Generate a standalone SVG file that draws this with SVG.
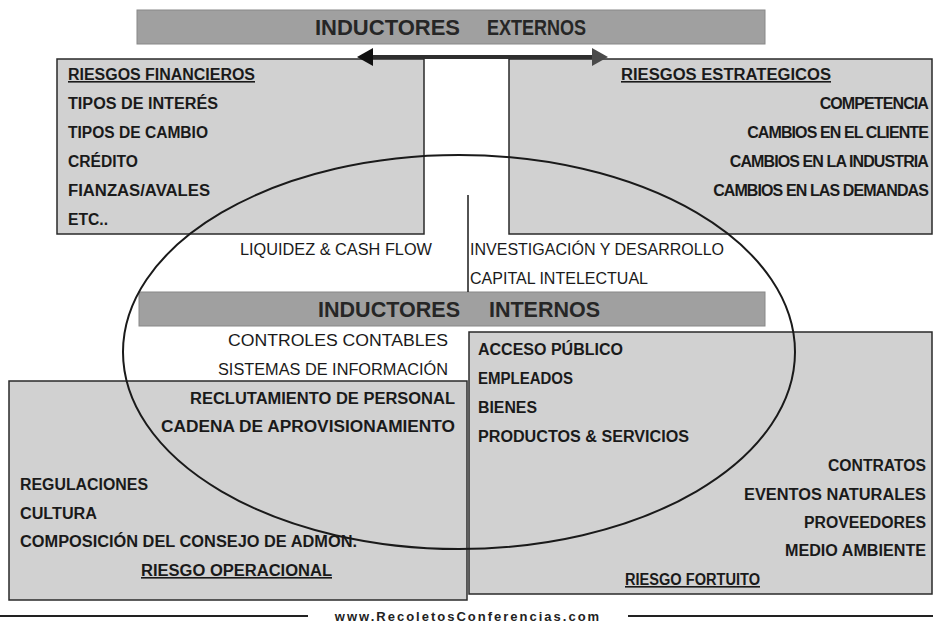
<svg xmlns="http://www.w3.org/2000/svg" width="933" height="627" viewBox="0 0 933 627">
<style>
.box{fill:#d1d1d1;stroke:#2a2a2a;stroke-width:1.5}
.banner{fill:#a0a0a0;stroke:#888;stroke-width:1}
.bt{font-family:"Liberation Sans",Arial,sans-serif;font-weight:bold;font-size:22px;fill:#262626}
.t{font-family:"Liberation Sans",Arial,sans-serif;font-weight:bold;font-size:16px;fill:#1a1a1a}
.s{font-family:"Liberation Sans",Arial,sans-serif;font-weight:bold;font-size:16px;letter-spacing:-0.9px;fill:#1a1a1a}
.r{font-family:"Liberation Sans",Arial,sans-serif;font-size:16px;fill:#1a1a1a}
.e{text-anchor:end}
.u{text-decoration:underline}
.ln{stroke:#1a1a1a;fill:none}
</style>
<rect width="933" height="627" fill="#ffffff"/>

<g id="banner-externos">
<rect class="banner" x="137" y="10" width="628" height="34"/>
<text class="bt" x="315" y="35" textLength="145" lengthAdjust="spacingAndGlyphs">INDUCTORES</text>
<text class="bt" x="487" y="35" textLength="99" lengthAdjust="spacingAndGlyphs">EXTERNOS</text>
</g>

<g id="riesgos-financieros">
<rect class="box" x="57" y="59" width="367" height="175"/>
<text class="t u" x="68" y="80" textLength="187" lengthAdjust="spacingAndGlyphs">RIESGOS FINANCIEROS</text>
<text class="t" x="68" y="109" textLength="150" lengthAdjust="spacingAndGlyphs">TIPOS DE INTERÉS</text>
<text class="t" x="68" y="138" textLength="140" lengthAdjust="spacingAndGlyphs">TIPOS DE CAMBIO</text>
<text class="t" x="68" y="167" textLength="70" lengthAdjust="spacingAndGlyphs">CRÉDITO</text>
<text class="t" x="68" y="196" textLength="142" lengthAdjust="spacingAndGlyphs">FIANZAS/AVALES</text>
<text class="t" x="68" y="225" textLength="40" lengthAdjust="spacingAndGlyphs">ETC..</text>
</g>

<g id="riesgos-estrategicos">
<rect class="box" x="509" y="59" width="423" height="175"/>
<text class="t u" x="621" y="80" textLength="210" lengthAdjust="spacingAndGlyphs">RIESGOS ESTRATEGICOS</text>
<text class="s e" x="928" y="109">COMPETENCIA</text>
<text class="s e" x="928" y="138">CAMBIOS EN EL CLIENTE</text>
<text class="s e" x="928" y="167">CAMBIOS EN LA INDUSTRIA</text>
<text class="s e" x="928" y="196">CAMBIOS EN LAS DEMANDAS</text>
</g>

<g id="riesgo-operacional">
<rect class="box" x="9" y="381" width="458" height="219"/>
<text class="t e" x="455" y="404" textLength="265" lengthAdjust="spacingAndGlyphs">RECLUTAMIENTO DE PERSONAL</text>
<text class="t e" x="455" y="432" textLength="294" lengthAdjust="spacingAndGlyphs">CADENA DE APROVISIONAMIENTO</text>
<text class="t" x="20" y="490" textLength="128" lengthAdjust="spacingAndGlyphs">REGULACIONES</text>
<text class="t" x="20" y="519" textLength="77" lengthAdjust="spacingAndGlyphs">CULTURA</text>
<text class="t" x="20" y="547" textLength="337" lengthAdjust="spacingAndGlyphs">COMPOSICIÓN DEL CONSEJO DE ADMON.</text>
<text class="t u" x="141" y="576" textLength="191" lengthAdjust="spacingAndGlyphs">RIESGO OPERACIONAL</text>
</g>

<g id="riesgo-fortuito">
<rect class="box" x="469" y="332" width="463" height="262"/>
<text class="t" x="478" y="355" textLength="145" lengthAdjust="spacingAndGlyphs">ACCESO PÚBLICO</text>
<text class="t" x="478" y="384" textLength="95" lengthAdjust="spacingAndGlyphs">EMPLEADOS</text>
<text class="t" x="478" y="413" textLength="59" lengthAdjust="spacingAndGlyphs">BIENES</text>
<text class="t" x="478" y="442" textLength="211" lengthAdjust="spacingAndGlyphs">PRODUCTOS &amp; SERVICIOS</text>
<text class="t e" x="926" y="471" textLength="98" lengthAdjust="spacingAndGlyphs">CONTRATOS</text>
<text class="t e" x="926" y="500" textLength="182" lengthAdjust="spacingAndGlyphs">EVENTOS NATURALES</text>
<text class="t e" x="926" y="528" textLength="122" lengthAdjust="spacingAndGlyphs">PROVEEDORES</text>
<text class="t e" x="926" y="556" textLength="141" lengthAdjust="spacingAndGlyphs">MEDIO AMBIENTE</text>
<text class="t u" x="625" y="585" textLength="135" lengthAdjust="spacingAndGlyphs">RIESGO FORTUITO</text>
</g>

<g id="banner-internos">
<rect class="banner" x="139" y="292" width="626" height="34"/>
<text class="bt" x="318" y="317" textLength="142" lengthAdjust="spacingAndGlyphs">INDUCTORES</text>
<text class="bt" x="489" y="317" textLength="111" lengthAdjust="spacingAndGlyphs">INTERNOS</text>
</g>

<g id="inductores-mixtos">
<text class="r e" x="432" y="255" textLength="192" lengthAdjust="spacingAndGlyphs">LIQUIDEZ &amp; CASH FLOW</text>
<text class="r" x="470" y="255" textLength="254" lengthAdjust="spacingAndGlyphs">INVESTIGACIÓN Y DESARROLLO</text>
<text class="r" x="470" y="284" textLength="178" lengthAdjust="spacingAndGlyphs">CAPITAL INTELECTUAL</text>
<text class="r e" x="448" y="346" textLength="220" lengthAdjust="spacingAndGlyphs">CONTROLES CONTABLES</text>
<text class="r e" x="448" y="375" textLength="230" lengthAdjust="spacingAndGlyphs">SISTEMAS DE INFORMACIÓN</text>
</g>

<g id="connectors">
<ellipse class="ln" cx="459" cy="352" rx="336" ry="197" stroke-width="2"/>
<line class="ln" x1="468" y1="195" x2="468" y2="292" stroke-width="1.5"/>
<line x1="368" y1="57" x2="598" y2="57" stroke="#2e2e2e" stroke-width="4"/>
<polygon points="357,57 373,48 373,66" fill="#111"/>
<polygon points="608,57 592,48 592,66" fill="#4a4a4a"/>
</g>

<g id="footer">
<line x1="0" y1="616" x2="308" y2="616" stroke="#222" stroke-width="2"/>
<line x1="628" y1="616" x2="933" y2="616" stroke="#222" stroke-width="2"/>
<text x="468" y="621" text-anchor="middle" font-family="'Liberation Sans',Arial,sans-serif" font-weight="bold" font-size="13" letter-spacing="2" fill="#222">www.RecoletosConferencias.com</text>
</g>
</svg>
